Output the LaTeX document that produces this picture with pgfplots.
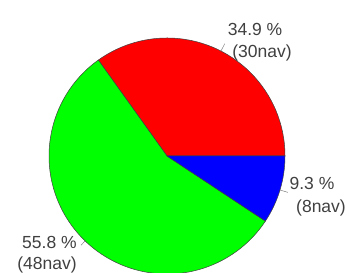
\documentclass[border=0pt]{standalone}
\usepackage{pgfplots}
\pgfplotsset{compat=1.18}
\usepackage{fontspec}
\setmainfont{Liberation Sans}
\definecolor{pr}{RGB}{255,0,0}
\definecolor{pg}{RGB}{0,255,0}
\definecolor{pb}{RGB}{0,0,255}
\begin{document}
\begin{tikzpicture}
% values (nav)
\def\va{30}\def\vb{8}\def\vc{48}
\pgfmathsetmacro\tot{\va+\vb+\vc}
\pgfmathsetmacro\aA{\va/\tot*360}
\pgfmathsetmacro\aB{\aA+\vc/\tot*360}
\pgfmathsetmacro\mA{\aA/2}
\pgfmathsetmacro\mB{(\aA+\aB)/2}
\pgfmathsetmacro\mC{(\aB+360)/2}
\begin{axis}[x=118pt,y=118pt, xmin=-1.4153, xmax=1.5424, ymin=-0.9915, ymax=1.3220,
  hide axis, clip=true]
\filldraw[fill=pr, draw=black!75, line width=0.5pt] (axis cs:0,0) -- (axis cs:1,0) arc[start angle=0,end angle=\aA,radius=118pt] -- cycle;
\filldraw[fill=pg, draw=black!75, line width=0.5pt] (axis cs:0,0) -- ({cos(\aA)},{sin(\aA)}) arc[start angle=\aA,end angle=\aB,radius=118pt] -- cycle;
\filldraw[fill=pb, draw=black!75, line width=0.5pt] (axis cs:0,0) -- ({cos(\aB)},{sin(\aB)}) arc[start angle=\aB,end angle=360,radius=118pt] -- cycle;
% leader lines
\draw[gray, line width=0.5pt] ({1.0*cos(\mA)},{1.0*sin(\mA)}) -- ({1.07*cos(\mA)},{1.07*sin(\mA)});
\draw[gray, line width=0.5pt] ({1.0*cos(\mB)},{1.0*sin(\mB)}) -- ({1.05*cos(\mB)},{1.05*sin(\mB)});
\draw[gray, line width=0.5pt] ({1.0*cos(\mC)},{1.0*sin(\mC)}) -- ({1.07*cos(\mC)},{1.07*sin(\mC)});
% labels
\node[font=\fontsize{17.5}{20}\selectfont, text=black!75, inner sep=0pt] at (axis cs:0.746,1.068) {34.9 \%};
\node[font=\fontsize{17.5}{20}\selectfont, text=black!75, inner sep=0pt] at (axis cs:0.805,0.873) {(30nav)};
\node[font=\fontsize{17.5}{20}\selectfont, text=black!75, inner sep=0pt] at (axis cs:1.229,-0.237) {9.3 \%};
\node[font=\fontsize{17.5}{20}\selectfont, text=black!75, inner sep=0pt] at (axis cs:1.305,-0.441) {(8nav)};
\node[font=\fontsize{17.5}{20}\selectfont, text=black!75, inner sep=0pt] at (axis cs:-0.996,-0.729) {55.8 \%};
\node[font=\fontsize{17.5}{20}\selectfont, text=black!75, inner sep=0pt] at (axis cs:-1.017,-0.924) {(48nav)};
\end{axis}
\pgfresetboundingbox
\path[use as bounding box] (current axis.south west) rectangle (current axis.north east);
\end{tikzpicture}
\end{document}
